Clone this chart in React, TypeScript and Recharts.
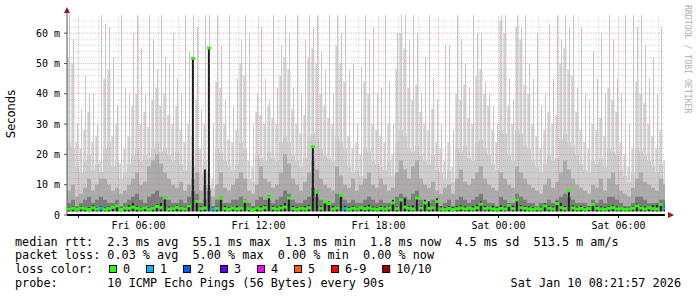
import React from 'react';
import { ComposedChart, Area, Bar, Scatter, XAxis, YAxis, ReferenceLine } from 'recharts';

// ---- time axis (hours since Fri 00:00) ----
const START_HOUR = 2.425;
const END_HOUR = 32.325;
const STEP_HOURS = 0.2;
const SMOKE_BASE = 1.2;

const xTickHours = [3, 6, 9, 12, 15, 18, 21, 24, 27, 30];
const xLabelHours = [6, 12, 18, 24, 30];
const xLabels = ['Fri 06:00', 'Fri 12:00', 'Fri 18:00', 'Sat 00:00', 'Sat 06:00'];
const yTicks = [0, 10, 20, 30, 40, 50, 60];

// ---- smoke layers (ms) ----
const smokeLow = [
  24, 22, 16, 14, 18, 20, 15, 17, 12, 22,
  24, 16, 18, 12, 14, 17, 20, 22, 18, 20,
  19, 22, 24, 21, 22, 20, 18, 21, 17, 15,
  18, 16, 22, 14, 18, 10, 9, 22, 21, 18,
  16, 15, 17, 24, 22, 12, 11, 20, 19, 18,
  21, 19, 18, 24, 26, 24, 20, 18, 16, 19,
  26, 27, 25, 22, 20, 19, 18, 26, 24, 22,
  16, 14, 15, 13, 22, 21, 18, 17, 16, 15,
  18, 13, 24, 28, 26, 22, 21, 23, 20, 18,
  17, 20, 15, 14, 12, 15, 11, 22, 21, 23,
  19, 18, 24, 25, 22, 20, 17, 15, 28, 27,
  20, 18, 28, 27, 23, 22, 18, 16, 14, 17,
  20, 18, 19, 25, 27, 24, 23, 20, 17, 15,
  14, 18, 17, 19, 16, 22, 21, 20, 15, 13,
  11, 14, 22, 21, 20, 18, 16, 14, 17, 12,
];

const smokeBody = [
  52, 50, 24, 22, 28, 34, 24, 26, 18, 45,
  48, 26, 30, 17, 22, 26, 36, 40, 30, 34,
  29, 38, 42, 36, 40, 33, 30, 36, 28, 24,
  30, 26, 38, 22, 30, 14, 12, 44, 42, 30,
  25, 24, 28, 50, 46, 18, 16, 34, 33, 30,
  36, 32, 30, 46, 52, 48, 35, 30, 27, 33,
  52, 55, 50, 40, 36, 32, 30, 56, 50, 44,
  26, 22, 24, 20, 44, 40, 30, 28, 26, 24,
  30, 20, 48, 60, 55, 42, 38, 43, 34, 30,
  28, 35, 24, 22, 18, 24, 16, 40, 38, 43,
  32, 30, 46, 48, 40, 36, 28, 24, 64, 60,
  36, 30, 62, 58, 43, 40, 30, 26, 22, 28,
  34, 30, 33, 50, 55, 48, 46, 34, 28, 24,
  22, 30, 28, 32, 26, 42, 38, 34, 24, 20,
  16, 22, 44, 40, 37, 30, 26, 22, 28, 18,
];

const smokeSpike = [
  66, 58, 30, 35, 46, 40, 40, 30, 66, 63,
  62, 52, 36, 66, 42, 40, 60, 66, 55, 40,
  66, 58, 48, 66, 52, 50, 60, 45, 40, 66,
  54, 66, 62, 35, 66, 66, 30, 66, 56, 38,
  66, 36, 45, 58, 66, 60, 30, 40, 62, 45,
  38, 66, 42, 56, 66, 60, 42, 66, 40, 58,
  66, 62, 66, 54, 48, 66, 40, 66, 60, 66,
  48, 50, 30, 49, 66, 58, 62, 40, 42, 66,
  44, 30, 60, 66, 66, 58, 66, 60, 40, 52,
  66, 45, 38, 30, 56, 56, 28, 66, 58, 50,
  42, 66, 60, 60, 44, 40, 36, 30, 66, 66,
  45, 38, 66, 62, 66, 50, 45, 60, 36, 40,
  63, 45, 66, 58, 66, 62, 66, 42, 62, 40,
  38, 54, 45, 60, 40, 66, 58, 45, 40, 66,
  30, 66, 62, 66, 56, 45, 52, 40, 62, 48,
];

const smokeMid = [
  8, 10, 6, 7, 9, 12, 8, 10, 14, 12,
  10, 8, 9, 7, 8, 10, 12, 14, 10, 11,
  16, 18, 20, 17, 14, 12, 10, 9, 11, 8,
  10, 12, 14, 8, 10, 9, 6, 10, 14, 9,
  8, 10, 12, 14, 12, 8, 7, 10, 16, 12,
  11, 9, 10, 14, 20, 17, 12, 10, 8, 11,
  14, 18, 15, 12, 10, 9, 8, 16, 13, 10,
  9, 12, 8, 10, 12, 14, 10, 9, 12, 10,
  8, 9, 14, 18, 15, 12, 16, 18, 12, 10,
  9, 11, 8, 7, 9, 10, 7, 12, 15, 11,
  10, 12, 14, 16, 12, 10, 9, 8, 14, 12,
  10, 9, 16, 14, 12, 10, 9, 8, 7, 10,
  12, 9, 11, 14, 18, 15, 12, 10, 9, 8,
  7, 10, 9, 12, 8, 12, 14, 10, 8, 7,
  6, 9, 12, 14, 11, 10, 9, 8, 12, 10,
];

const smokeDark = [
  4, 5, 3, 4, 5, 6, 4, 5, 6, 5,
  4, 4, 5, 3, 4, 5, 6, 7, 5, 4,
  6, 7, 8, 6, 5, 5, 4, 4, 5, 4,
  6, 8, 7, 4, 5, 8, 3, 5, 6, 4,
  4, 5, 5, 6, 5, 4, 3, 5, 6, 5,
  5, 4, 5, 6, 8, 7, 5, 4, 4, 5,
  6, 9, 6, 5, 4, 4, 4, 7, 6, 5,
  4, 5, 4, 4, 5, 6, 5, 4, 5, 4,
  4, 4, 6, 7, 6, 5, 7, 8, 5, 4,
  4, 5, 4, 3, 4, 5, 3, 5, 6, 5,
  4, 5, 6, 7, 5, 4, 4, 3, 6, 5,
  4, 4, 7, 6, 5, 4, 4, 3, 4, 4,
  5, 4, 5, 6, 7, 6, 5, 4, 4, 4,
  3, 5, 4, 5, 4, 6, 6, 5, 4, 3,
  3, 4, 6, 6, 5, 4, 4, 4, 5, 5,
];

const smokeCore = [
  2.6, 2.8, 2.4, 3, 2.6, 2.5, 3.2, 2.6, 2.8, 2.5,
  2.7, 3, 3.5, 2.4, 2.8, 3.2, 4, 3, 2.6, 3,
  2.5, 2.8, 3.5, 4, 6, 2.8, 2.7, 3.2, 2.8, 2.6,
  3.6, 51.7, 5, 2.8, 15, 55.1, 2.6, 2.8, 6, 3,
  2.6, 2.8, 3, 2.7, 5, 2.6, 2.4, 2.8, 3, 3.2,
  6.5, 3, 2.8, 3.2, 4, 6, 3, 2.6, 2.8, 3,
  3.2, 22.6, 8, 3, 4.5, 4.5, 3, 2.8, 6.5, 3,
  2.7, 3, 2.6, 2.8, 3, 3.4, 2.8, 2.6, 3, 2.8,
  3, 5, 2.8, 4.5, 5.5, 3, 3.2, 6, 3, 5,
  4.5, 3, 5.5, 2.8, 2.6, 3, 2.5, 3, 3.2, 2.8,
  2.6, 3, 3.4, 4.5, 3, 2.8, 3, 2.6, 3.2, 2.8,
  3.8, 3, 5.5, 3.2, 3, 2.8, 2.6, 2.5, 2.8, 3.8,
  3, 2.8, 4.5, 4, 3, 8, 3.2, 2.8, 3, 2.6,
  2.8, 4, 3, 2.8, 2.6, 3, 3.2, 2.8, 2.6, 2.5,
  2.6, 2.8, 3.8, 3, 2.8, 3, 3.2, 3.4, 4, 3,
];

const medianRtt = [
  2.0, 2.2, 1.9, 2.3, 2.1, 1.8, 2.4, 2.0, 2.2, 1.9,
  2.1, 2.5, 3.0, 1.8, 2.3, 2.2, 2.6, 2.2, 2.0, 2.4,
  1.9, 2.2, 2.8, 2.4, 5.6, 2.0, 2.1, 2.5, 2.2, 2.0,
  3.0, 51.7, 4.5, 2.1, 2.3, 55.1, 2.0, 2.2, 5.5, 2.1,
  1.9, 2.3, 2.0, 2.2, 4.5, 2.1, 1.8, 2.3, 2.0, 2.4,
  6.0, 2.2, 2.0, 2.3, 2.6, 5.6, 2.1, 1.9, 2.2, 2.0,
  2.4, 22.6, 7.5, 2.2, 4.3, 3.8, 2.0, 2.3, 6.5, 2.1,
  1.9, 2.2, 2.0, 2.4, 2.1, 2.3, 2.0, 1.9, 2.2, 2.0,
  2.3, 4.0, 2.1, 5.0, 2.6, 2.2, 2.0, 5.6, 2.3, 4.0,
  2.2, 2.4, 4.5, 2.0, 1.9, 2.2, 1.8, 2.1, 2.3, 2.0,
  2.2, 2.0, 2.4, 3.6, 2.1, 2.3, 2.0, 1.9, 2.2, 2.0,
  3.2, 2.1, 5.0, 2.4, 2.2, 2.0, 1.9, 2.1, 2.0, 3.0,
  2.2, 2.0, 3.8, 2.4, 2.1, 8.0, 2.3, 2.0, 2.2, 1.9,
  2.1, 3.5, 2.2, 2.0, 1.9, 2.2, 2.4, 2.0, 2.1, 1.9,
  2.0, 2.2, 3.0, 2.3, 2.0, 2.4, 2.1, 2.0, 3.5, 2.2,
];

const lossCount = [
  0, 0, 0, 0, 0, 0, 0, 0, 1, 0,
  0, 0, 0, 0, 0, 0, 0, 0, 0, 0,
  0, 0, 0, 0, 0, 0, 0, 0, 0, 0,
  0, 0, 0, 0, 0, 0, 1, 0, 0, 0,
  0, 0, 0, 0, 0, 0, 0, 0, 0, 0,
  0, 0, 0, 0, 0, 0, 0, 0, 0, 0,
  0, 0, 0, 0, 0, 0, 0, 0, 0, 1,
  0, 0, 0, 0, 0, 0, 0, 0, 0, 0,
  0, 0, 0, 0, 0, 0, 0, 0, 0, 0,
  0, 0, 0, 0, 0, 0, 0, 0, 0, 0,
  0, 0, 0, 0, 0, 0, 0, 0, 0, 0,
  0, 0, 0, 0, 0, 0, 0, 0, 0, 0,
  0, 0, 0, 0, 0, 0, 0, 0, 0, 0,
  0, 0, 0, 0, 0, 0, 0, 0, 0, 0,
  0, 0, 0, 0, 0, 0, 0, 0, 0, 1,
];

// ---- legend texts ----
const rttStats = ['2.3 ms avg', '55.1 ms max', '1.3 ms min', '1.8 ms now', '4.5 ms sd', '513.5 m am/s'];
const lossStats = ['0.03 % avg', '5.00 % max', '0.00 % min', '0.00 % now'];
const lossLabels = ['0', '1', '2', '3', '4', '5', '6-9', '10/10'];
const lossPalette = ['#26ff00', '#00b8ff', '#0059ff', '#5e00ff', '#ff00ff', '#ff5e00', '#ff0000', '#a10000'];
const probeText = '10 ICMP Echo Pings (56 Bytes) every 90s';
const stampText = 'Sat Jan 10 08:21:57 2026';

const N = smokeBody.length;
const centerRows = smokeBody.map((b, i) => {
  const top = Math.max(b, smokeLow[i]);
  return {
    t: START_HOUR + STEP_HOURS * (i + 0.5),
    low: [SMOKE_BASE, smokeLow[i]],
    body: b > smokeLow[i] ? [smokeLow[i], b] : null,
    spike: smokeSpike[i] > top ? [top, smokeSpike[i]] : null,
    mid: [SMOKE_BASE, smokeMid[i]],
    dark: [SMOKE_BASE, smokeDark[i]],
    core: [SMOKE_BASE, smokeCore[i]],
    med: medianRtt[i],
    color: lossPalette[lossCount[i]],
  };
});
const edge = (t: number, i: number) => ({
  t,
  low: [SMOKE_BASE, smokeLow[i]],
  body: null,
  spike: null,
  mid: [SMOKE_BASE, smokeMid[i]],
  dark: [SMOKE_BASE, smokeDark[i]],
  core: null,
  med: null,
  color: lossPalette[0],
});
const rows = [edge(START_HOUR, 0), ...centerRows, edge(END_HOUR, N - 1)];

const gridHours: number[] = [];
for (let h = 3; h <= 32; h++) gridHours.push(h);
const gridMs: number[] = [];
for (let v = 2; v <= 64; v += 2) gridMs.push(v);

const MONO = '"DejaVu Sans Mono", monospace';
const MINOR_GRID = 'rgba(150,150,150,0.35)';
const MAJOR_GRID = 'rgba(235,90,90,0.45)';

// bar shape with a fixed pixel width, centred on the bar's own position
const fixedBar = (w: number, fill: string) => (p: any) => {
  if (p == null || p.height == null || !(Math.abs(p.height) > 0)) return <g />;
  const cx = p.x + p.width / 2;
  const y = p.height < 0 ? p.y + p.height : p.y;
  return <rect x={cx - w / 2} y={y} width={w} height={Math.abs(p.height)} fill={fill} />;
};

const MedianMark = (props: any) => {
  const { cx, cy, payload } = props;
  if (cx == null || cy == null || payload == null || payload.med == null) return null;
  return <rect x={cx - 2} y={cy - 1.5} width={4} height={3} fill={payload.color} />;
};

const hiddenAxis = (id: string) => (
  <XAxis
    key={id}
    xAxisId={id}
    dataKey="t"
    type="number"
    domain={[START_HOUR, END_HOUR]}
    allowDataOverflow
    hide
  />
);

export default function App() {
  const LEG_X = 15;
  const CH = 7.1;
  const boxes: { x: number; label: string; color: string }[] = [];
  let bx = 109;
  lossLabels.forEach((l, k) => {
    boxes.push({ x: bx, label: l, color: lossPalette[k] });
    bx += 14 + l.length * CH + 15.9;
  });

  return (
    <div style={{ position: 'absolute', left: 0, top: 0, width: 697, height: 297, background: '#fff' }}>
      <ComposedChart
        width={697}
        height={297}
        data={rows}
        margin={{ top: 15, right: 32, bottom: 62, left: 10 }}
      >
        <XAxis
          dataKey="t"
          type="number"
          domain={[START_HOUR, END_HOUR]}
          allowDataOverflow
          ticks={xTickHours}
          tickFormatter={(v: number) => {
            const k = xLabelHours.indexOf(v);
            return k >= 0 ? xLabels[k] : '';
          }}
          tick={{ fontFamily: MONO, fontSize: 10, fill: '#000' }}
          axisLine={{ stroke: '#000', strokeWidth: 2 }}
          tickLine={{ stroke: '#000' }}
          tickSize={3}
          tickMargin={3.5}
          height={20}
        />
        {hiddenAxis('b')}
        {hiddenAxis('s')}
        {hiddenAxis('c')}
        <YAxis
          type="number"
          domain={[0, 66]}
          allowDataOverflow
          ticks={yTicks}
          tickFormatter={(v: number) => (v === 0 ? '0' : `${v} m`)}
          tick={{ fontFamily: MONO, fontSize: 10, fill: '#000' }}
          axisLine={{ stroke: '#555' }}
          tickLine={{ stroke: '#555' }}
          tickSize={3}
          tickMargin={4}
          width={57}
        />
        <Area type="step" dataKey="low" stroke="none" fill="#cdcdcd" fillOpacity={1} isAnimationActive={false} />
        <Bar xAxisId="b" dataKey="body" fill="#cfcfcf" barSize={3} shape={fixedBar(3, '#cfcfcf')} isAnimationActive={false} />
        <Bar xAxisId="s" dataKey="spike" fill="#c6c6c6" barSize={1} shape={fixedBar(1, '#c6c6c6')} isAnimationActive={false} />
        <Area type="step" dataKey="mid" stroke="none" fill="#ababab" fillOpacity={1} isAnimationActive={false} />
        <Area type="step" dataKey="dark" stroke="none" fill="#7c7c7c" fillOpacity={1} isAnimationActive={false} />
        <Bar xAxisId="c" dataKey="core" fill="#1e1e1e" barSize={2} shape={fixedBar(2, '#1e1e1e')} isAnimationActive={false} />
        {gridMs.map((v) => (
          <ReferenceLine
            key={'h' + v}
            y={v}
            stroke={v % 10 === 0 ? MAJOR_GRID : MINOR_GRID}
            strokeDasharray="1 1"
          />
        ))}
        {gridHours.map((h) => (
          <ReferenceLine
            key={'v' + h}
            x={h}
            stroke={h % 3 === 0 ? MAJOR_GRID : MINOR_GRID}
            strokeDasharray="1 1"
          />
        ))}
        <Scatter dataKey="med" shape={MedianMark} isAnimationActive={false} />
      </ComposedChart>

      <svg
        width={697}
        height={297}
        style={{ position: 'absolute', left: 0, top: 0, pointerEvents: 'none' }}
      >
        <polygon points="64,13 70,13 67,7" fill="#8b1a1a" />
        <line x1={67} y1={13} x2={67} y2={15} stroke="#555" />
        <polygon points="668,212 668,218 674,215" fill="#8b1a1a" />
        <text
          transform="translate(15,114) rotate(-90)"
          textAnchor="middle"
          fontFamily='"DejaVu Sans", sans-serif'
          fontSize={11.5}
          fill="#000"
        >
          Seconds
        </text>
        <text
          transform="translate(685,5) rotate(90)"
          fontFamily={MONO}
          fontSize={8.2}
          fill="#b0b0b0"
        >
          RRDTOOL / TOBI OETIKER
        </text>
        <g fontFamily={MONO} fontSize={11.8} fill="#000" style={{ whiteSpace: 'pre' }}>
          <text x={LEG_X} y={245.5} style={{ whiteSpace: 'pre' }}>
            {'median rtt:  ' + rttStats.join('  ')}
          </text>
          <text x={LEG_X} y={259} style={{ whiteSpace: 'pre' }}>
            {'packet loss: ' + lossStats.join('  ')}
          </text>
          <text x={LEG_X} y={272.5} style={{ whiteSpace: 'pre' }}>
            {'loss color:'}
          </text>
          {boxes.map((b) => (
            <g key={b.label}>
              <rect x={b.x + 0.5} y={265.5} width={7} height={7} fill={b.color} stroke="#000" strokeWidth={1} />
              <text x={b.x + 14} y={272.5}>{b.label}</text>
            </g>
          ))}
          <text x={LEG_X} y={286.5} style={{ whiteSpace: 'pre' }}>
            {'probe:       ' + probeText}
          </text>
          <text x={681} y={286.5} textAnchor="end">
            {stampText}
          </text>
        </g>
      </svg>
    </div>
  );
}
